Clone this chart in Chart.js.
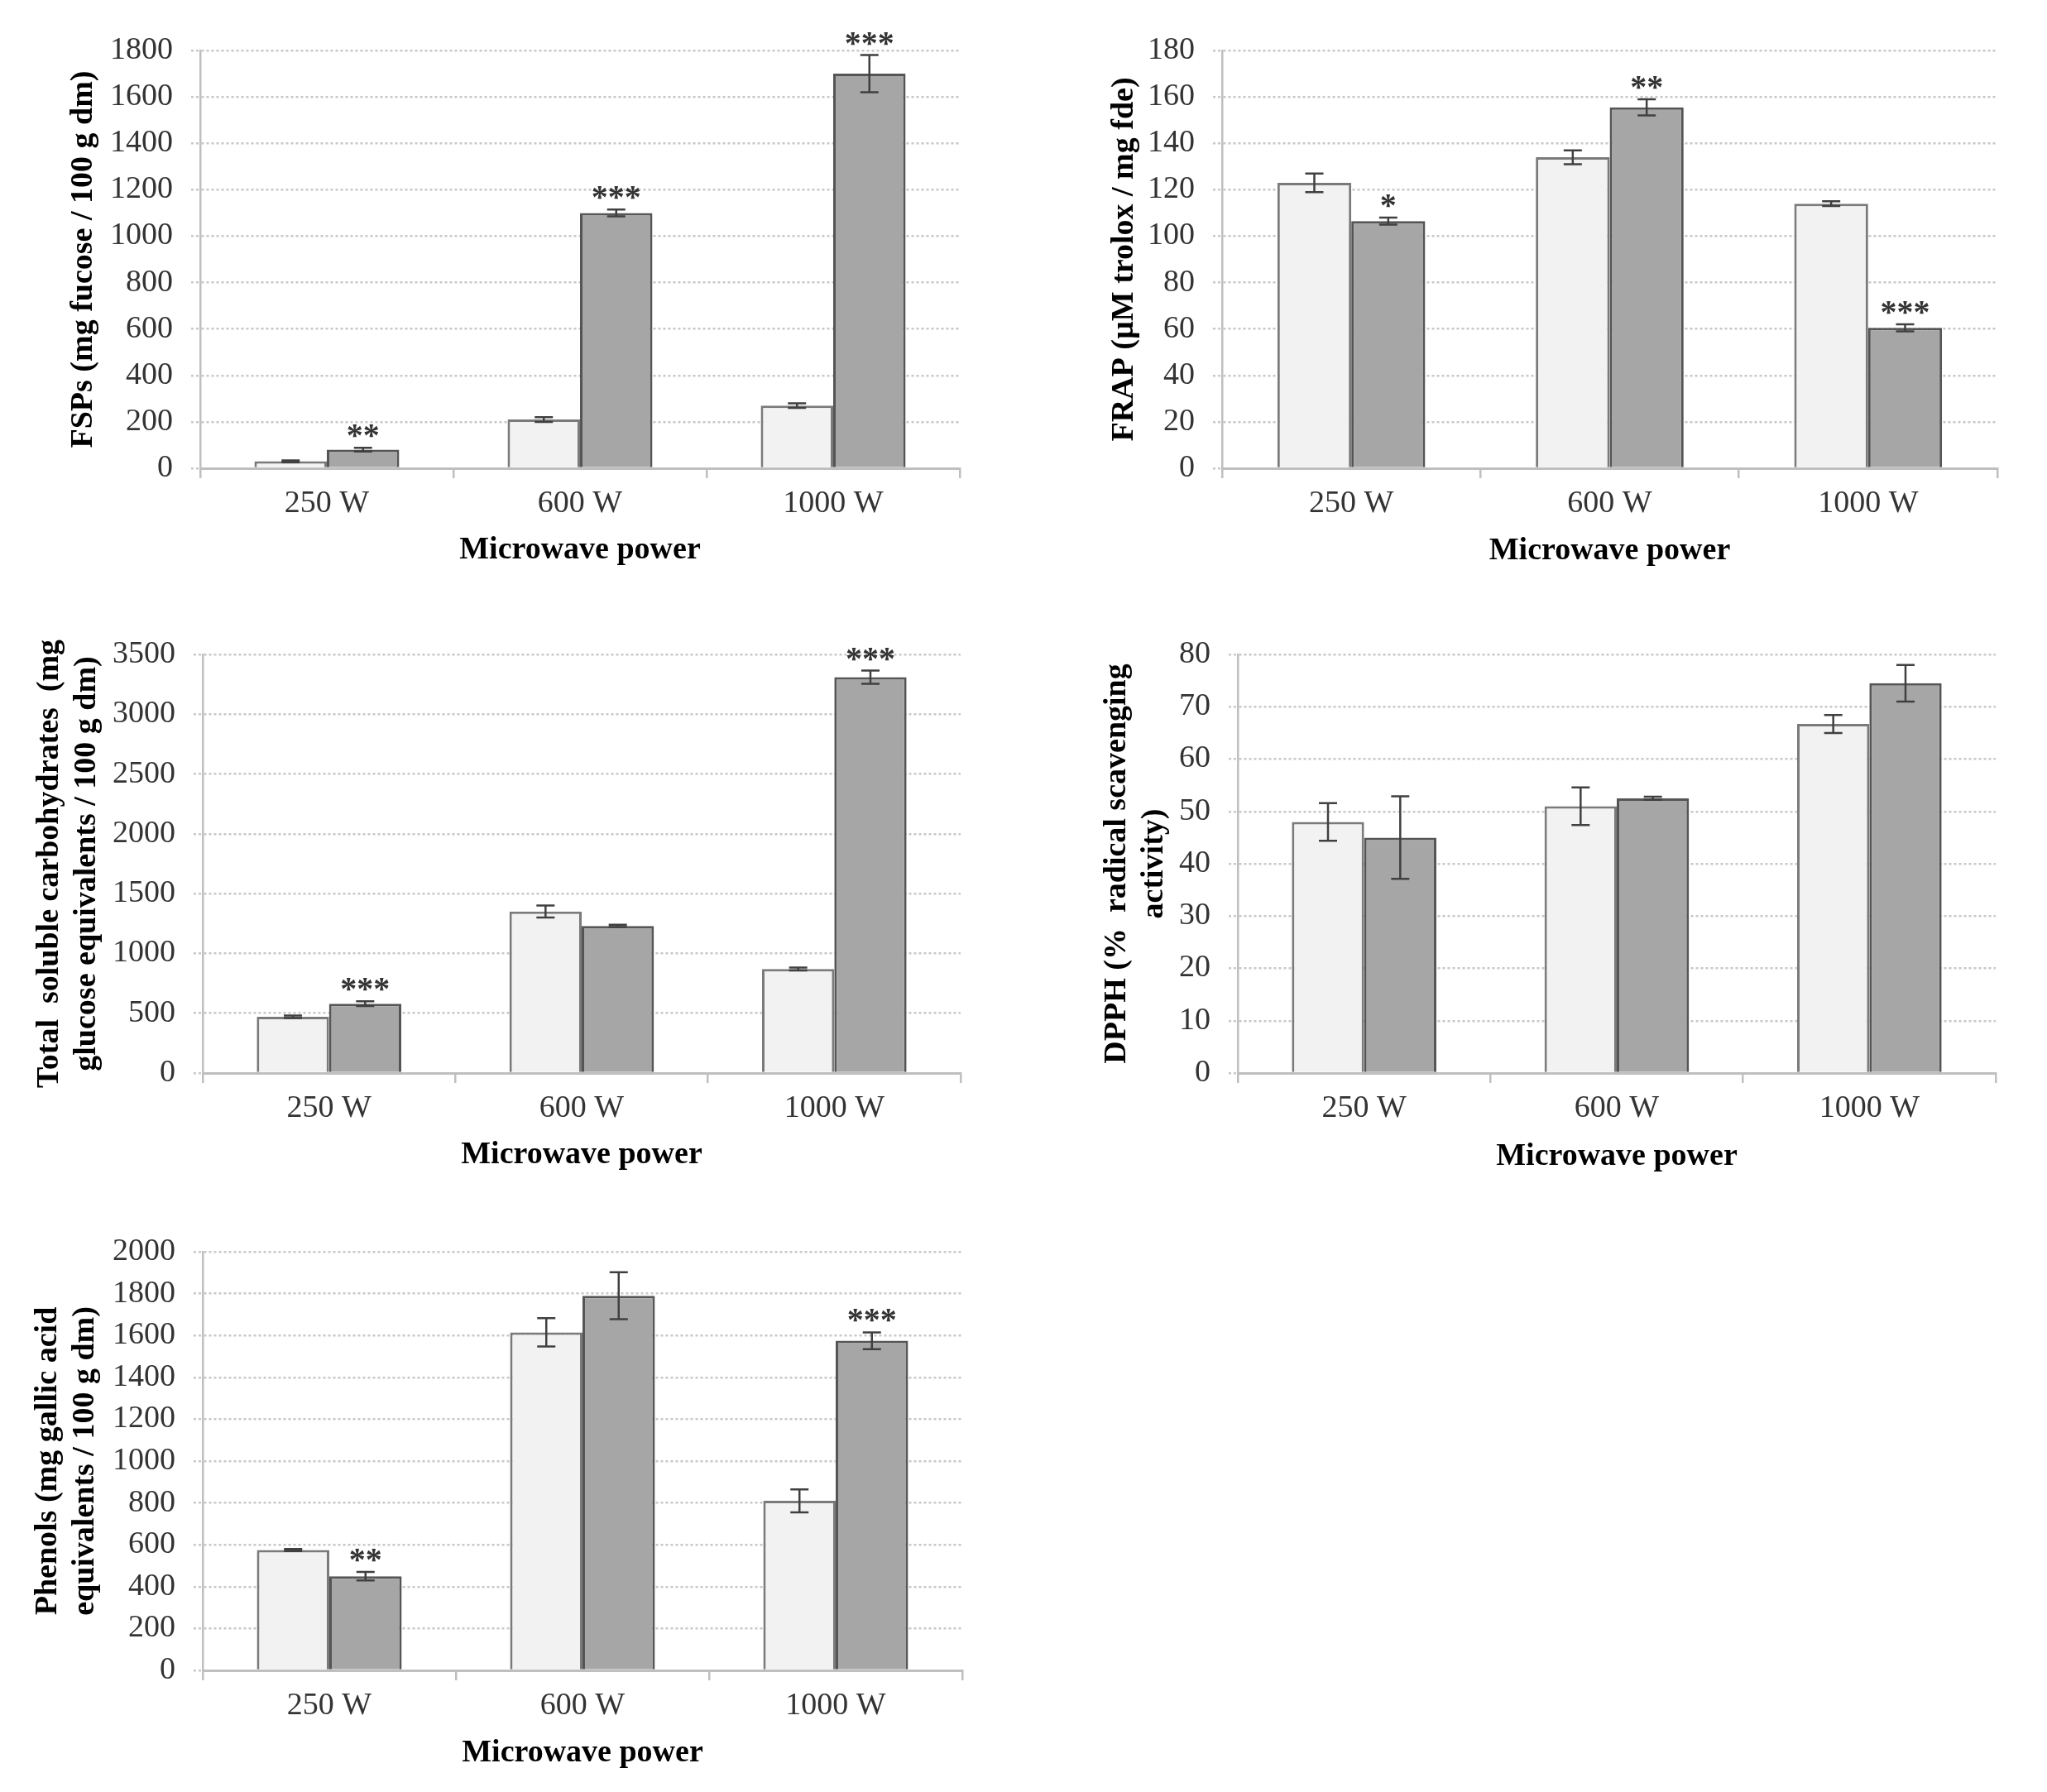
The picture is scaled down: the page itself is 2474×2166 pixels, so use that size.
<!DOCTYPE html>
<html><head><meta charset="utf-8">
<script src="https://cdn.jsdelivr.net/npm/chart.js@4.4.1/dist/chart.umd.min.js"></script>
<style>
html,body{margin:0;padding:0;background:#fff;}
body{width:2474px;height:2166px;position:relative;overflow:hidden;}
canvas{position:absolute;}
</style></head><body>
<canvas id="c1"></canvas><canvas id="c2"></canvas><canvas id="c3"></canvas><canvas id="c4"></canvas><canvas id="c5"></canvas>
<script>
// ---------- data ----------
const categories = ['250 W', '600 W', '1000 W'];
const xTitle = 'Microwave power';

const fspTitle = ['FSPs (mg fucose / 100 g dm)'];
const fspTicks = [0, 200, 400, 600, 800, 1000, 1200, 1400, 1600, 1800];
const fspLight = [30, 210, 270];
const fspLightErr = [4, 10, 10];
const fspDark = [80, 1100, 1700];
const fspDarkErr = [8, 15, 80];
const fspStars = ['**', '***', '***'];

const frapTitle = ['FRAP (µM trolox / mg fde)'];
const frapTicks = [0, 20, 40, 60, 80, 100, 120, 140, 160, 180];
const frapLight = [123, 134, 114];
const frapLightErr = [4, 3, 1];
const frapDark = [106.5, 155.5, 60.5];
const frapDarkErr = [1.5, 3.5, 1.5];
const frapStars = ['*', '**', '***'];

const tscTitle = ['Total  soluble carbohydrates  (mg', 'glucose equivalents / 100 g dm)'];
const tscTicks = [0, 500, 1000, 1500, 2000, 2500, 3000, 3500];
const tscLight = [470, 1350, 870];
const tscLightErr = [10, 50, 12];
const tscDark = [580, 1230, 3310];
const tscDarkErr = [20, 10, 55];
const tscStars = ['***', '', '***'];

const dpphTitle = ['DPPH (%  radical scavenging', 'activity)'];
const dpphTicks = [0, 10, 20, 30, 40, 50, 60, 70, 80];
const dpphLight = [48, 51, 66.7];
const dpphLightErr = [3.6, 3.6, 1.7];
const dpphDark = [45, 52.5, 74.5];
const dpphDarkErr = [7.9, 0.3, 3.5];
const dpphStars = ['', '', ''];

const phenTitle = ['Phenols (mg gallic acid', 'equivalents / 100 g dm)'];
const phenTicks = [0, 200, 400, 600, 800, 1000, 1200, 1400, 1600, 1800, 2000];
const phenLight = [575, 1615, 810];
const phenLightErr = [5, 68, 55];
const phenDark = [450, 1790, 1575];
const phenDarkErr = [20, 112, 40];
const phenStars = ['**', '', '***'];

// ---------- drawing ----------
const FONT = '"Liberation Serif", "Times New Roman", Times, serif';
const LH = 38 * 1.2;

const errStarsPlugin = {
  id: 'errstars',
  afterDatasetsDraw(chart, args, opts) {
    const ctx = chart.ctx, ys = chart.scales.y;
    ctx.save();
    chart.data.datasets.forEach((ds, di) => {
      const meta = chart.getDatasetMeta(di);
      const errs = opts.errors[di] || [];
      const stars = opts.stars[di] || [];
      meta.data.forEach((bar, j) => {
        const v = ds.data[j], e = errs[j] || 0;
        const yt = ys.getPixelForValue(v + e), yb = ys.getPixelForValue(v - e);
        ctx.strokeStyle = '#404040';
        ctx.lineWidth = 2.5;
        ctx.beginPath();
        ctx.moveTo(bar.x, yt); ctx.lineTo(bar.x, yb);
        ctx.moveTo(bar.x - 11, yt); ctx.lineTo(bar.x + 11, yt);
        ctx.moveTo(bar.x - 11, yb); ctx.lineTo(bar.x + 11, yb);
        ctx.stroke();
        if (stars[j]) {
          ctx.fillStyle = '#333';
          ctx.font = 'bold 40px ' + FONT;
          ctx.textAlign = 'center';
          ctx.textBaseline = 'alphabetic';
          ctx.fillText(stars[j], bar.x, yt - 2);
        }
      });
    });
    ctx.restore();
  }
};

function makePanel(id, box, ax, cfg) {
  const cv = document.getElementById(id);
  cv.width = box.w; cv.height = box.h;
  cv.style.left = box.x + 'px'; cv.style.top = box.y + 'px';
  cv.style.width = box.w + 'px'; cv.style.height = box.h + 'px';
  const ticks = cfg.ticks;
  new Chart(cv, {
    type: 'bar',
    data: {
      labels: categories,
      datasets: [
        {data: cfg.light, backgroundColor: '#f2f2f2', borderColor: '#7a7a7a', borderWidth: 3},
        {data: cfg.dark, backgroundColor: '#a6a6a6', borderColor: '#555555', borderWidth: 3}
      ]
    },
    options: {
      responsive: false,
      animation: false,
      layout: {padding: {left: 0, top: ax.top - box.y, right: box.x + box.w - ax.right, bottom: 0}},
      datasets: {bar: {categoryPercentage: 0.572, barPercentage: 1}},
      plugins: {
        legend: {display: false},
        tooltip: {enabled: false},
        errstars: {errors: [cfg.lightErr, cfg.darkErr], stars: [[], cfg.stars]}
      },
      scales: {
        x: {
          afterFit(s) { s.height = box.y + box.h - ax.bottom; },
          grid: {offset: true, drawOnChartArea: false, drawTicks: true, tickLength: 12, color: '#bfbfbf', lineWidth: 2.5},
          border: {display: true, color: '#bfbfbf', width: 3},
          ticks: {font: {family: FONT, size: 38}, color: '#333', padding: 8, maxRotation: 0, autoSkip: false},
          title: {display: true, text: xTitle, font: {family: FONT, size: 38, weight: 'bold'}, color: '#000',
                  padding: {top: 0, bottom: box.y + box.h - ax.xTitleY - LH / 2}}
        },
        y: {
          min: ticks[0], max: ticks[ticks.length - 1],
          afterFit(s) { s.width = ax.left - box.x; },
          afterBuildTicks(s) { s.ticks = ticks.map(v => ({value: v})); },
          ticks: {font: {family: FONT, size: 38}, color: '#333', padding: 22, callback: v => String(v)},
          grid: {color: '#c8c8c8', lineWidth: 2.5, drawTicks: true, tickLength: 11, tickBorderDash: [3, 3]},
          border: {display: true, color: '#bfbfbf', width: 2.5, dash: [3, 3]},
          title: {display: true, text: cfg.yTitle, font: {family: FONT, size: 38, weight: 'bold'}, color: '#000',
                  padding: {top: ax.yTitleX - box.x - LH / 2, bottom: 0}}
        }
      }
    },
    plugins: [errStarsPlugin]
  });
}

makePanel('c1', {x: 0, y: 0, w: 1240, h: 720},
  {left: 242, right: 1160, top: 61, bottom: 566, yTitleX: 101, xTitleY: 665},
  {ticks: fspTicks, light: fspLight, lightErr: fspLightErr, dark: fspDark, darkErr: fspDarkErr, stars: fspStars, yTitle: fspTitle});

makePanel('c2', {x: 1240, y: 0, w: 1234, h: 720},
  {left: 1477, right: 2414, top: 61, bottom: 566, yTitleX: 1359, xTitleY: 666},
  {ticks: frapTicks, light: frapLight, lightErr: frapLightErr, dark: frapDark, darkErr: frapDarkErr, stars: frapStars, yTitle: frapTitle});

makePanel('c3', {x: 0, y: 740, w: 1240, h: 720},
  {left: 245, right: 1161, top: 791, bottom: 1297, yTitleX: 60, xTitleY: 1396},
  {ticks: tscTicks, light: tscLight, lightErr: tscLightErr, dark: tscDark, darkErr: tscDarkErr, stars: tscStars, yTitle: tscTitle});

makePanel('c4', {x: 1240, y: 740, w: 1234, h: 720},
  {left: 1496, right: 2412, top: 791, bottom: 1297, yTitleX: 1350, xTitleY: 1398},
  {ticks: dpphTicks, light: dpphLight, lightErr: dpphLightErr, dark: dpphDark, darkErr: dpphDarkErr, stars: dpphStars, yTitle: dpphTitle});

makePanel('c5', {x: 0, y: 1460, w: 1240, h: 706},
  {left: 245, right: 1163, top: 1513, bottom: 2019, yTitleX: 58, xTitleY: 2119},
  {ticks: phenTicks, light: phenLight, lightErr: phenLightErr, dark: phenDark, darkErr: phenDarkErr, stars: phenStars, yTitle: phenTitle});
</script>
</body></html>
